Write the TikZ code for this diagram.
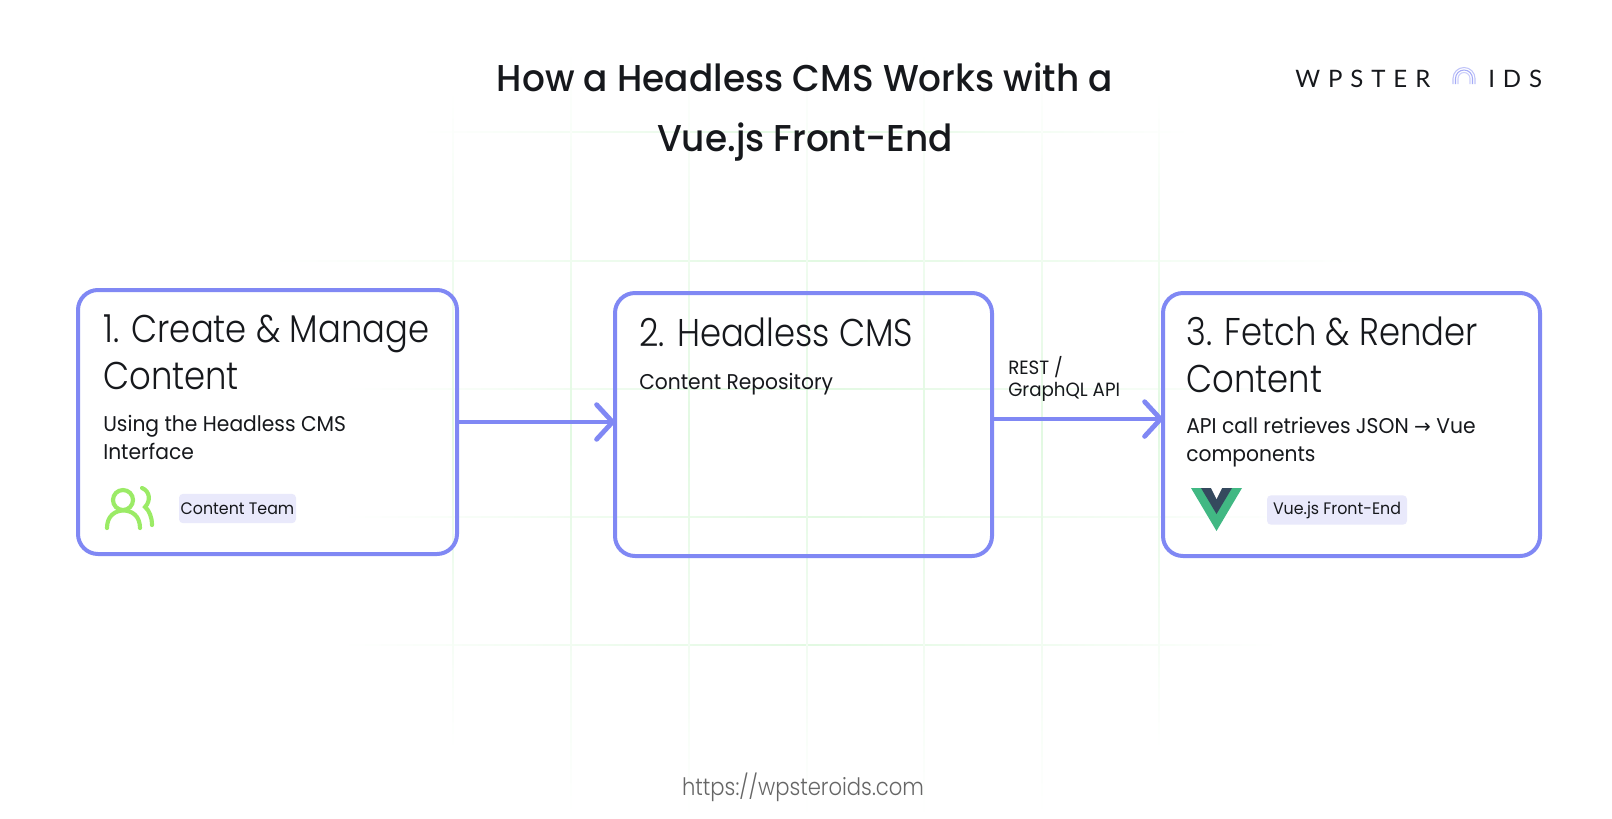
\documentclass[tikz,border=0pt]{standalone}
\usepackage{fontspec}
\setmainfont{Poppins}[FakeStretch=0.95]
\newfontfamily\headfont{Poppins Light}[FakeStretch=0.875]
\newfontfamily\titlefont{Poppins Medium}[FakeStretch=0.96]
\newfontfamily\logofont{Lato}[LetterSpace=33]
\newfontfamily\footfont{Poppins Light}[FakeStretch=0.88]
\newfontfamily\symfont{DejaVu Sans}
\usetikzlibrary{calc, arrows.meta}
\definecolor{boxblue}{HTML}{8088F4}
\definecolor{tagfill}{HTML}{E9E9FB}
\definecolor{inkblack}{HTML}{16181C}
\definecolor{gridgreen}{HTML}{E2F9E2}
\definecolor{teamgreen}{HTML}{9BEB66}
\definecolor{vuegreen}{HTML}{41B883}
\definecolor{vuedark}{HTML}{35495E}
\tikzset{
  stepcard/.style={draw=boxblue, line width=3pt, rounded corners=15pt, inner sep=0pt, outer sep=0pt},
  headtext/.style={anchor=north west, inner sep=0pt, text=inkblack, font=\headfont\fontsize{29}{35}\selectfont, align=left},
  subtext/.style={anchor=north west, inner sep=0pt, text=inkblack, font=\fontsize{16}{21}\selectfont, align=left},
  tagbox/.style={fill=tagfill, rounded corners=3pt, text=inkblack, font=\fontsize{12.5}{15}\selectfont, inner sep=0pt, minimum height=22pt},
  flowarrow/.style={draw=boxblue, line width=3.6pt, line join=round, -{Straight Barb[round, length=12pt, width=26pt, line width=3.6pt]}},
  gridh/.style={left color=white, right color=white, middle color=gridgreen},
  gridv/.style={top color=white, bottom color=white, middle color=gridgreen},
  teamicon/.style={draw=teamgreen, line width=3.1pt, line cap=round}
}
\begin{document}
\begin{tikzpicture}[x=0.75pt,y=-0.75pt]
\useasboundingbox (0,0) rectangle (1612,818);
\fill[white] (0,0) rectangle (1612,818);
% Background grid
\foreach \gy/\gl/\gr in {132/420/1190,261/270/1370,389/340/1300,517/340/1300,645/340/1280}
  \shade[gridh] (\gl,\gy-0.6) rectangle (\gr,\gy+0.6);
\foreach \gx/\gt/\gb in {453/90/750,571/50/815,689/50/818,807/50/818,924/50/818,1042/60/815,1159/90/750}
  \shade[gridv] (\gx-0.6,\gt) rectangle (\gx+0.6,\gb);
% Title
\node[anchor=center, inner sep=0pt, text=inkblack, font=\titlefont\fontsize{28}{44.7}\selectfont, align=center] (title) at (805,112) {How a Headless CMS Works with a\\Vue.js Front-End};
% Logo
\node[anchor=west, inner sep=0pt, text=inkblack, font=\logofont\fontsize{18}{20}\selectfont] (logoleft) at (1295,79) {WPSTER};
\node[anchor=west, inner sep=0pt, text=inkblack, font=\logofont\fontsize{18}{20}\selectfont] (logoright) at (1488,79) {IDS};
\foreach \rr/\rc in {11/50,8.5/70,6/40}
  \draw[boxblue!\rc, line width=0.8pt] (1464-\rr,84) -- (1464-\rr,78.5) arc[start angle=180, end angle=0, radius=\rr*0.75pt] -- (1464+\rr,84);
% Cards
\node[stepcard, minimum width=284.25pt, minimum height=198pt] (cardA) at (267.5,422) {};
\node[stepcard, minimum width=282.75pt, minimum height=197.25pt] (cardB) at (803.5,424.5) {};
\node[stepcard, minimum width=282.75pt, minimum height=197.25pt] (cardC) at (1351.5,424.5) {};
% Card text
\node[headtext] (headA) at (103,315) {1. Create \& Manage\\Content};
\node[subtext] (subA) at (103,415) {Using the Headless CMS\\Interface};
\node[headtext] (headB) at (639,318) {2. Headless CMS};
\node[subtext] (subB) at (639,373) {Content Repository};
\node[headtext] (headC) at (1186,317) {3. Fetch \& Render\\Content};
\node[subtext] (subC) at (1186,417) {API call retrieves JSON {\symfont\fontsize{15}{21}\selectfont →} Vue\\components};
% Tags
\node[tagbox, minimum width=87.75pt] (tagA) at (237.5,508.5) {Content Team};
\node[tagbox, minimum width=105pt] (tagC) at (1337,510) {Vue.js Front-End};
% Team icon
\draw[teamicon] (123,500) circle[radius=7.5pt];
\draw[teamicon] (107,528) .. controls (107,516) and (115,510.5) .. (123.5,510.5) .. controls (132,510.5) and (140,516) .. (140,528);
\draw[teamicon] (142,488) .. controls (150,491) and (151,501) .. (145,507) .. controls (149,510) and (152,517) .. (152,525);
% Vue logo
\fill[vuegreen] (1191,488) -- (1242,488) -- (1216.5,531) -- cycle;
\fill[vuedark] (1201,488) -- (1232,488) -- (1216.5,514) -- cycle;
\fill[white] (1211,488) -- (1222,488) -- (1216.5,499) -- cycle;
% Arrows
\draw[flowarrow] (cardA.east) -- (cardB.west |- cardA.east);
\draw[flowarrow] ([yshift=4.1pt]cardB.east) -- ([yshift=4.1pt]cardC.west);
\node[anchor=north west, inner sep=0pt, text=inkblack, font=\fontsize{14.4}{16.5}\selectfont, align=left] (apilabel) at (1008,356) {REST /\\GraphQL API};
% Footer
\node[inner sep=0pt, text=black!60, font=\footfont\fontsize{18}{20}\selectfont] (footer) at (803,787) {https://wpsteroids.com};
\end{tikzpicture}
\end{document}
